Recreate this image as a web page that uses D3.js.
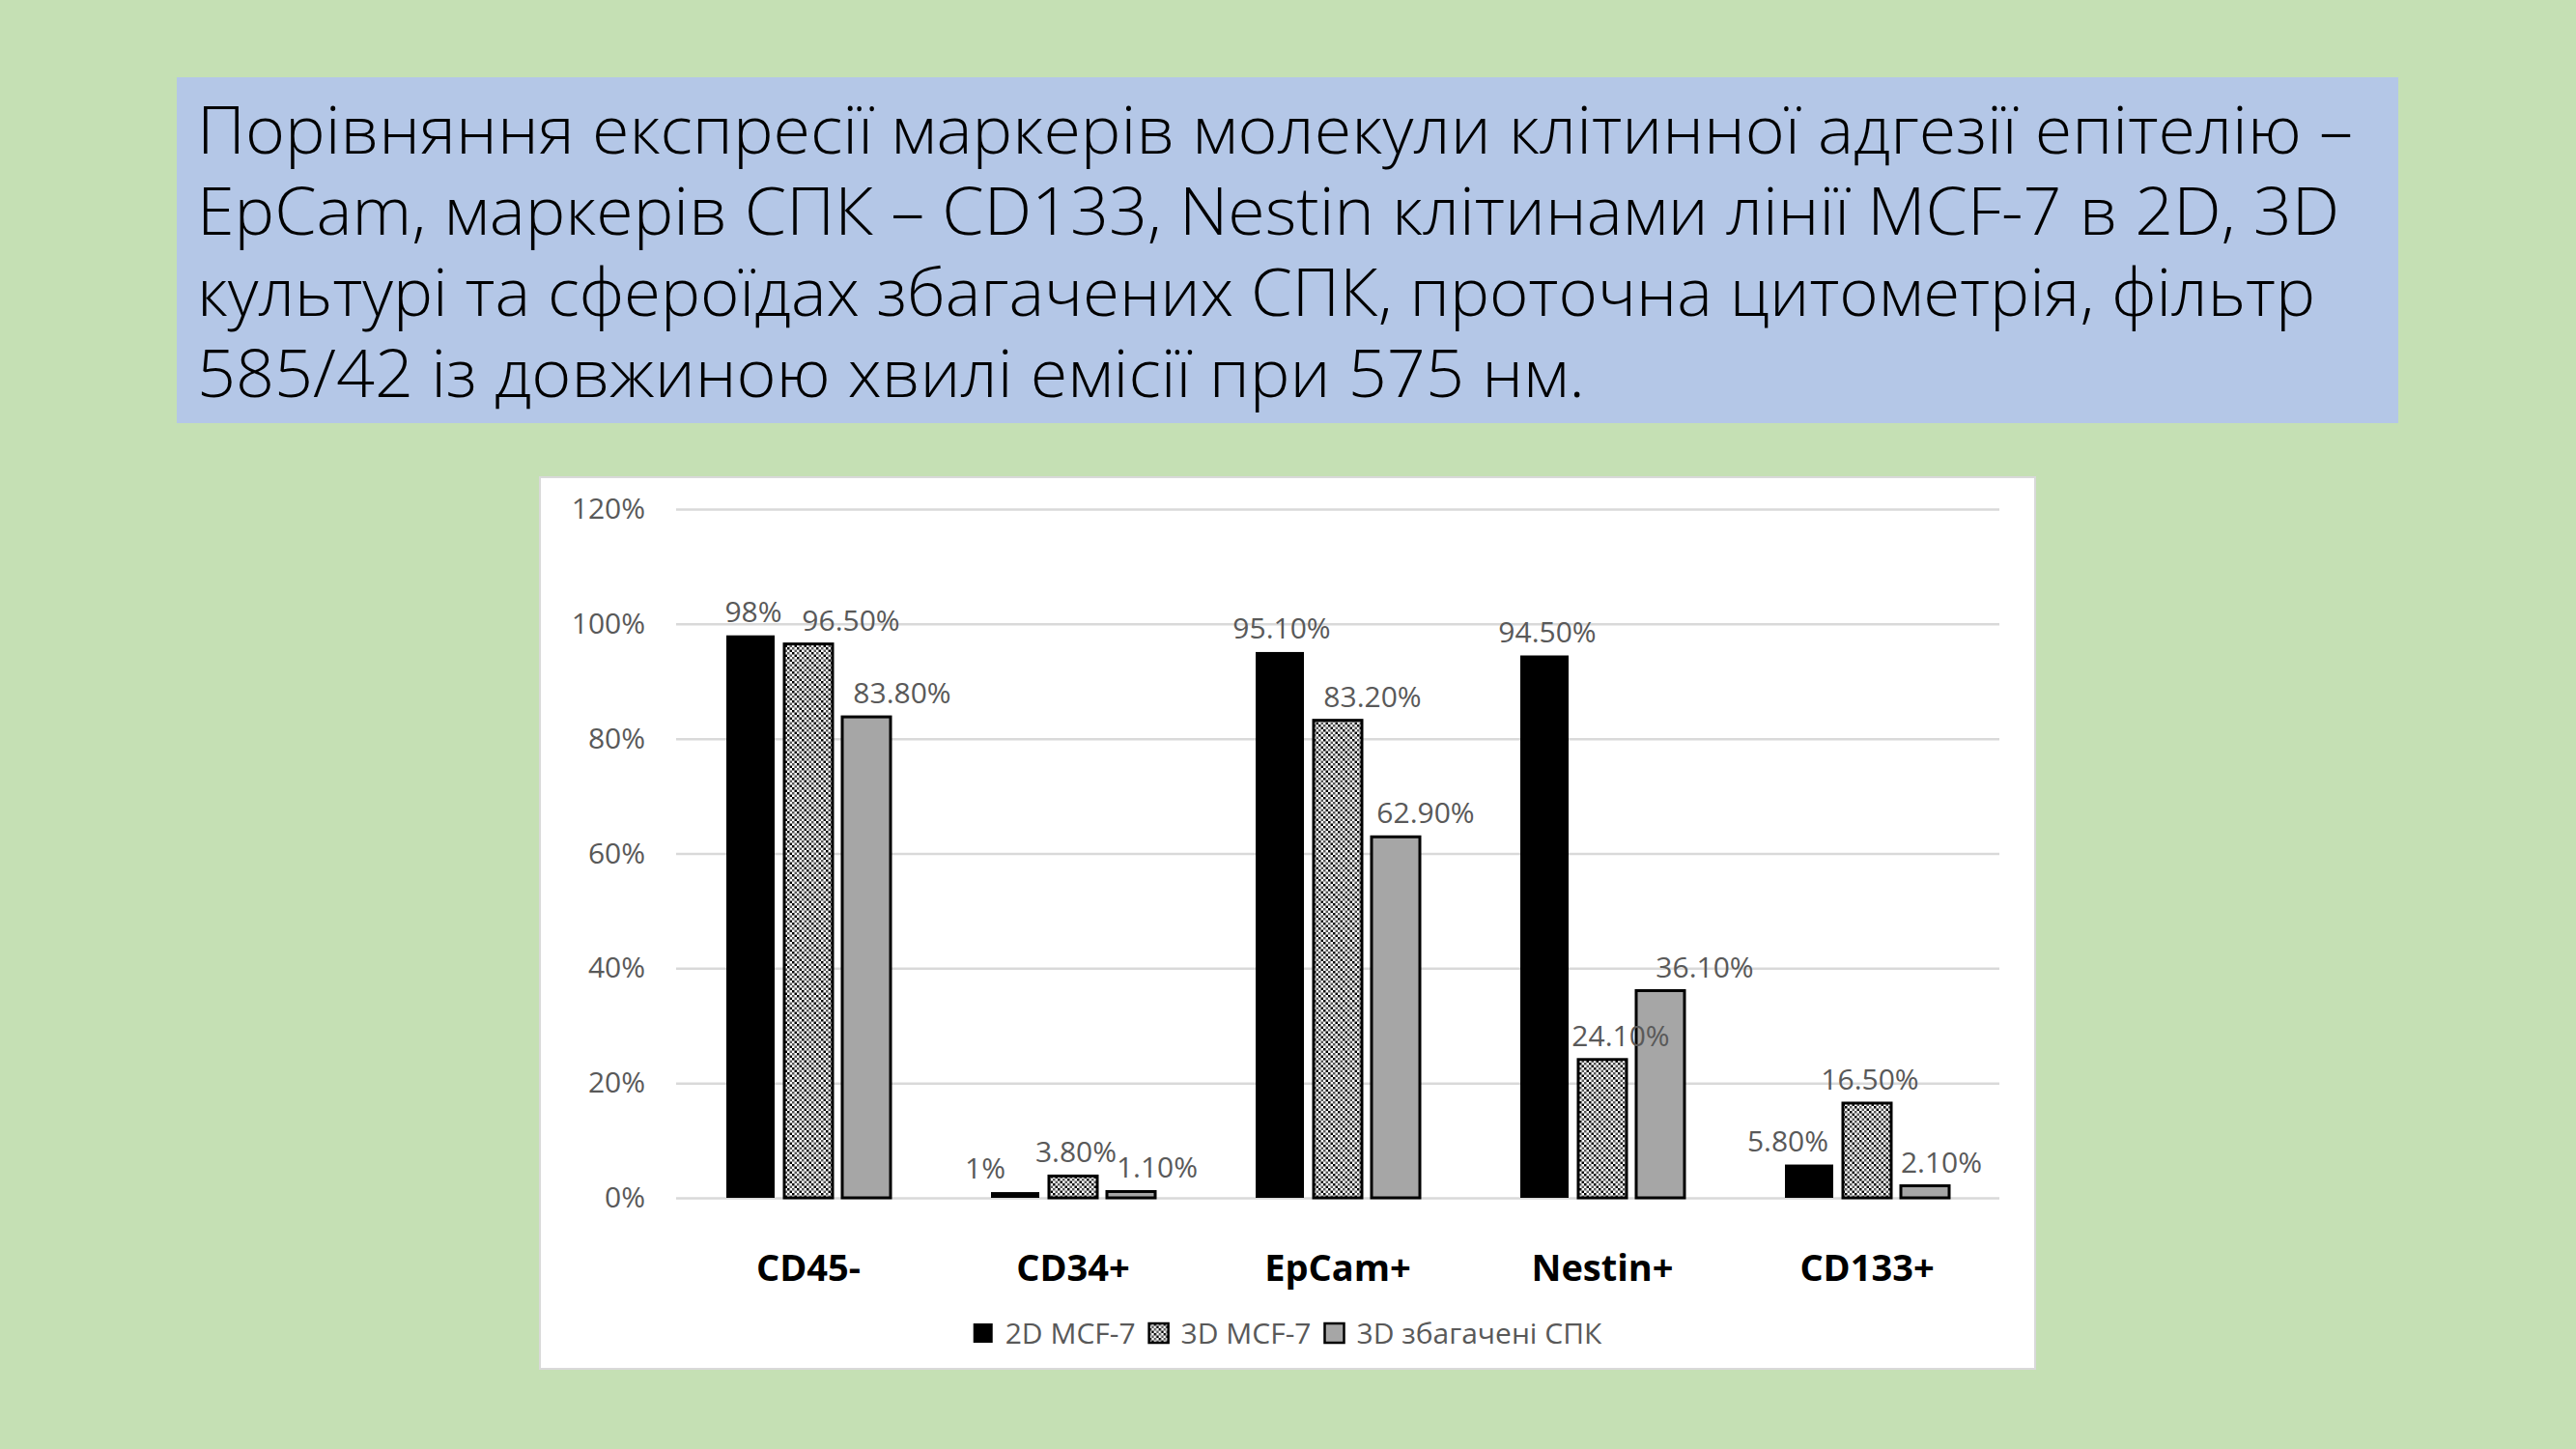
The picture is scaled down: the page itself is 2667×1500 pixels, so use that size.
<!DOCTYPE html>
<html>
<head>
<meta charset="utf-8">
<script src="https://cdn.jsdelivr.net/npm/d3@7"></script>
<style>
  html, body { margin: 0; padding: 0; background: #c5e0b4; }
  svg { display: block; }
</style>
</head>
<body>
<div id="slide"></div>
<script>
// --- data ---
const titleLines = [
    "Порівняння експресії маркерів молекули клітинної адгезії епітелію –",
    "EpCam, маркерів СПК – CD133, Nestin клітинами лінії MCF-7 в 2D, 3D",
    "культурі та сфероїдах збагачених СПК, проточна цитометрія, фільтр",
    "585/42 із довжиною хвилі емісії при 575 нм."
];
const categories = ["CD45-", "CD34+", "EpCam+", "Nestin+", "CD133+"];
const seriesNames = ["2D MCF-7", "3D MCF-7", "3D збагачені СПК"];
const values2D = [0.98, 0.01, 0.951, 0.945, 0.058];
const values3D = [0.965, 0.038, 0.832, 0.241, 0.165];
const valuesSpheroid = [0.838, 0.011, 0.629, 0.361, 0.021];
const yTicks = [0, 0.2, 0.4, 0.6, 0.8, 1.0, 1.2];

class SlideRenderer {
    constructor(container, options) {
        this.container = container;
        this.options = options;
    }

    createSVG() {
        return d3.select(this.container)
            .append("svg")
            .attr("width", this.options.width)
            .attr("height", this.options.height)
            .attr("viewBox", `0 0 ${this.options.width} ${this.options.height}`);
    }

    createPattern(svg) {
        // checker + diagonal texture used by Excel for the 3D series
        const cell = 2.5;
        const pat = svg.append("defs").append("pattern")
            .attr("id", "hatch3d")
            .attr("patternUnits", "userSpaceOnUse")
            .attr("width", cell * 4)
            .attr("height", cell * 4);
        pat.append("rect").attr("width", cell * 4).attr("height", cell * 4).attr("fill", "#fff");
        for (let i = 0; i < 4; i++) {
            for (let j = 0; j < 4; j++) {
                if ((i + j) % 2 !== 0) continue;
                const diag = ((i - j) % 4 + 4) % 4;
                pat.append("rect")
                    .attr("x", i * cell).attr("y", j * cell)
                    .attr("width", cell).attr("height", cell)
                    .attr("fill", diag === 0 ? "#5a5a5a" : "#000");
            }
        }
    }

    drawBackground(svg) {
        const o = this.options;
        svg.append("rect")
            .attr("width", o.width).attr("height", o.height)
            .attr("fill", "#c5e0b4");

        const t = o.title;
        svg.append("rect")
            .attr("x", t.x).attr("y", t.y)
            .attr("width", t.w).attr("height", t.h)
            .attr("fill", "#b4c7e7");

        svg.append("g")
            .selectAll("text")
            .data(titleLines)
            .enter()
            .append("text")
            .attr("x", t.textX)
            .attr("y", (d, i) => t.firstBaseline + i * t.lineStep)
            .attr("textLength", (d, i) => t.lineWidths[i])
            .attr("lengthAdjust", "spacingAndGlyphs")
            .style("font-family", "'Open Sans', 'Noto Sans', sans-serif")
            .style("font-weight", 300)
            .style("font-size", `${t.fontSize}px`)
            .style("fill", "#000")
            .text(d => d);
    }

    drawChart(svg) {
        const o = this.options;
        const c = o.chart;

        svg.append("rect")
            .attr("x", c.x).attr("y", c.y)
            .attr("width", c.w).attr("height", c.h)
            .attr("fill", "#fff")
            .attr("stroke", "#d9d9d9")
            .attr("stroke-width", 2);

        const x0 = d3.scaleBand()
            .domain(categories)
            .range([c.plotLeft, c.plotRight])
            .padding(0);

        const x1 = d3.scaleBand()
            .domain(d3.range(seriesNames.length))
            .range([-c.groupHalf, c.groupHalf])
            .paddingInner(1 / 6)
            .paddingOuter(1 / 12);

        const y = d3.scaleLinear()
            .domain([0, 1.2])
            .range([c.plotBottom, c.plotTop]);

        const fontFamily = "'Open Sans', 'Noto Sans', sans-serif";

        // gridlines + y labels
        const yAxis = svg.append("g")
            .attr("transform", `translate(${c.plotLeft},0)`)
            .call(d3.axisLeft(y)
                .tickValues(yTicks)
                .tickFormat(d3.format(".0%"))
                .tickSize(-(c.plotRight - c.plotLeft))
                .tickPadding(32));
        yAxis.select(".domain").remove();
        yAxis.selectAll(".tick line")
            .attr("stroke", "#d9d9d9")
            .attr("stroke-width", 2.5);
        yAxis.selectAll(".tick text")
            .style("font-family", fontFamily)
            .style("font-size", "30px")
            .style("fill", "#595959");

        // category labels
        const xAxis = svg.append("g")
            .attr("transform", `translate(0,${c.plotBottom})`)
            .call(d3.axisBottom(x0).tickSize(0).tickPadding(59));
        xAxis.select(".domain").remove();
        xAxis.selectAll(".tick text")
            .style("font-family", fontFamily)
            .style("font-size", "38px")
            .style("font-weight", "bold")
            .style("fill", "#000");

        const seriesValues = [values2D, values3D, valuesSpheroid];
        const rows = [];
        categories.forEach((cat, ci) => {
            seriesValues.forEach((vals, si) => {
                rows.push({ cat, ci, si, value: vals[ci] });
            });
        });

        const barX = d => x0(d.cat) + x0.bandwidth() / 2 + x1(d.si);

        svg.append("g")
            .selectAll("rect")
            .data(rows)
            .enter()
            .append("rect")
            .attr("x", barX)
            .attr("y", d => y(d.value))
            .attr("width", x1.bandwidth())
            .attr("height", d => y(0) - y(d.value))
            .attr("fill", d => o.fills[d.si])
            .attr("stroke", "#000")
            .attr("stroke-width", d => d.si === 0 ? 0 : 3);

        const fmt = v => {
            const pct = v * 100;
            return Math.abs(pct - Math.round(pct)) < 1e-9
                ? `${Math.round(pct)}%`
                : `${pct.toFixed(2)}%`;
        };

        svg.append("g")
            .selectAll("text")
            .data(rows)
            .enter()
            .append("text")
            .attr("x", d => barX(d) + x1.bandwidth() / 2 + o.labelNudge[d.ci][d.si])
            .attr("y", d => y(d.value) - 14)
            .attr("text-anchor", "middle")
            .style("font-family", fontFamily)
            .style("font-size", "30px")
            .style("fill", "#595959")
            .text(d => fmt(d.value));

        this.drawLegend(svg, fontFamily);
    }

    drawLegend(svg, fontFamily) {
        const o = this.options;
        const c = o.chart;
        const box = 20, gapText = 13, gapItem = 14;

        const legend = svg.append("g");
        const items = legend.selectAll("g")
            .data(seriesNames)
            .enter()
            .append("g");

        items.append("rect")
            .attr("y", -box / 2)
            .attr("width", box).attr("height", box)
            .attr("fill", (d, i) => o.fills[i])
            .attr("stroke", "#000")
            .attr("stroke-width", (d, i) => i === 0 ? 0 : 2.5);

        items.append("text")
            .attr("x", box + gapText)
            .attr("dy", "0.36em")
            .style("font-family", fontFamily)
            .style("font-size", "30px")
            .style("fill", "#595959")
            .text(d => d);

        let cursor = 0;
        items.each(function () {
            const w = box + gapText + d3.select(this).select("text").node().getComputedTextLength();
            d3.select(this).attr("transform", `translate(${cursor},0)`);
            cursor += w + gapItem;
        });
        const total = cursor - gapItem;
        legend.attr("transform", `translate(${c.x + c.w / 2 - total / 2},${c.legendY})`);
    }

    render() {
        const svg = this.createSVG();
        this.createPattern(svg);
        this.drawBackground(svg);
        this.drawChart(svg);
    }
}

new SlideRenderer("#slide", {
    width: 2667,
    height: 1500,
    title: {
        x: 183, y: 80, w: 2300, h: 358,
        textX: 204, firstBaseline: 159, lineStep: 84, fontSize: 69,
        lineWidths: [2232, 2218, 2193, 1437]
    },
    chart: {
        x: 559, y: 494, w: 1548, h: 923,
        plotLeft: 700, plotRight: 2070, plotTop: 527, plotBottom: 1240,
        groupHalf: 90, legendY: 1380
    },
    fills: ["#000000", "url(#hatch3d)", "#a6a6a6"],
    labelNudge: [
        [3, 44, 37],
        [-31, 3, 27],
        [2, 36, 31],
        [3, 19, 46],
        [-22, 3, 17]
    ]
}).render();
</script>
</body>
</html>
